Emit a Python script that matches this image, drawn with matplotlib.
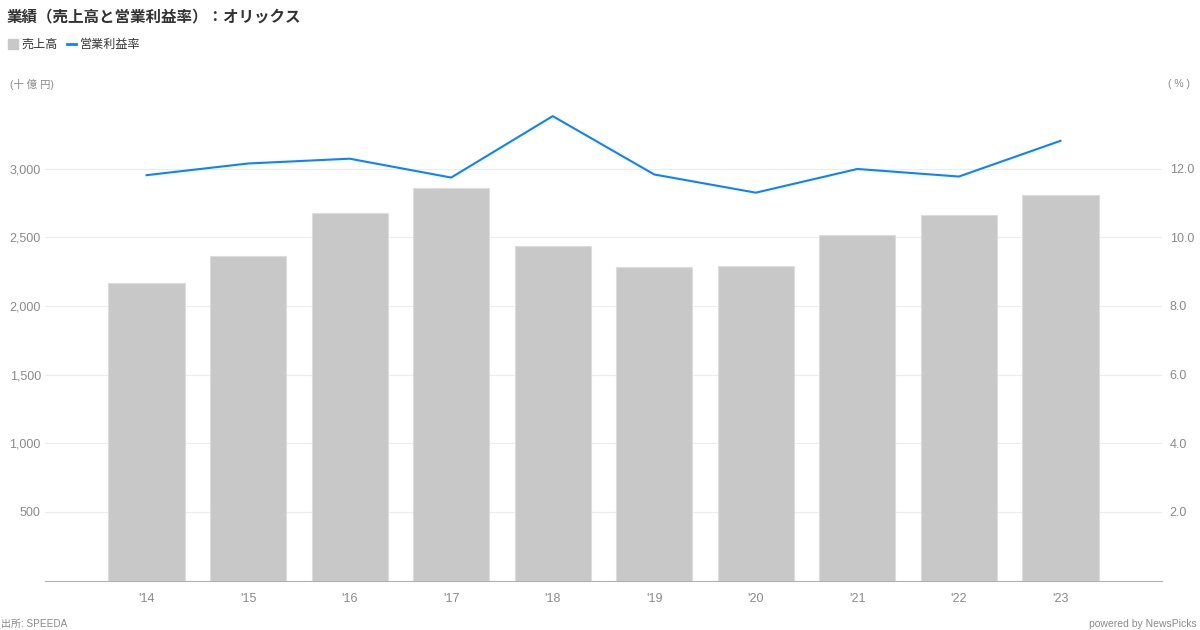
import matplotlib.pyplot as plt
from matplotlib.lines import Line2D

plt.rcParams['font.family'] = ['Liberation Sans', 'Noto Sans CJK JP', 'DejaVu Sans']

years = ["'14", "'15", "'16", "'17", "'18", "'19", "'20", "'21", "'22", "'23"]
sales = [2170, 2367, 2675, 2862, 2435, 2280, 2291, 2517, 2665, 2811]
op_margin = [11.81, 12.15, 12.29, 11.74, 13.53, 11.83, 11.30, 11.99, 11.77, 12.81]
left_ticks = [500, 1000, 1500, 2000, 2500, 3000]
right_ticks = [2.0, 4.0, 6.0, 8.0, 10.0, 12.0]

bar_color = "#c8c8c8"
line_color = "#0a84ff"
tick_color = "#8a8a8a"

fig = plt.figure(figsize=(12, 6.3), dpi=100)
ax = fig.add_axes([45 / 1200, 1 - 580.5 / 630, 1117 / 1200, 480.5 / 630])
x = list(range(len(years)))

ax.bar(x, sales, width=0.75, color=bar_color, edgecolor="#dcdcdc", linewidth=0.8, zorder=2)
ax.set_xlim(-1, 10)
ax.set_ylim(0, 3500)
ax.set_yticks(left_ticks)
ax.set_yticklabels([f"{v:,}" for v in left_ticks])
ax.set_xticks(x)
ax.set_xticklabels(years)
ax.grid(axis="y", color="#ececec", linewidth=0.8, zorder=0)
ax.set_axisbelow(True)
for side in ["top", "left", "right"]:
    ax.spines[side].set_visible(False)
ax.spines["bottom"].set_color("#b0b0b0")
ax.tick_params(axis="both", length=0, colors=tick_color, labelsize=9)
ax.tick_params(axis="x", pad=9)
ax.tick_params(axis="y", pad=3)

ax2 = ax.twinx()
ax2.plot(x, op_margin, color=line_color, linewidth=1.5, zorder=3)
ax2.set_ylim(0, 14)
ax2.set_yticks(right_ticks)
ax2.set_yticklabels([f"{v:.1f}" for v in right_ticks])
for side in ["top", "left", "right", "bottom"]:
    ax2.spines[side].set_visible(False)
ax2.tick_params(axis="y", length=0, colors=tick_color, labelsize=9, pad=5.5)

fig.text(7 / 1200, 1 - 17 / 630, "業績（売上高と営業利益率）：オリックス",
         fontsize=11.2, fontweight="bold", color="#333333", va="center", ha="left")

handles = [
    Line2D([], [], marker="s", linestyle="none", color=bar_color, markersize=6.5),
    Line2D([], [], color=line_color, linewidth=2),
]
fig.legend(handles, ["売上高", "営業利益率"], loc="center left",
           bbox_to_anchor=(0.0, 1 - 45 / 630), ncol=2, frameon=False,
           fontsize=8.7, handlelength=0.8, handletextpad=0.3, columnspacing=0.7,
           borderpad=0.2, labelcolor="#333333")

fig.text(10 / 1200, 1 - 84 / 630, "(十 億 円)", fontsize=7.5, color=tick_color, va="center")
fig.text(1190 / 1200, 1 - 84 / 630, "( % )", fontsize=7.5, color=tick_color, va="center", ha="right")
fig.text(1 / 1200, 1 - 624 / 630, "出所: SPEEDA", fontsize=7.2, color=tick_color, va="center")
fig.text(1197 / 1200, 1 - 624 / 630, "powered by NewsPicks", fontsize=7.5, color=tick_color,
         va="center", ha="right")

fig.savefig("out.png", dpi=100)
